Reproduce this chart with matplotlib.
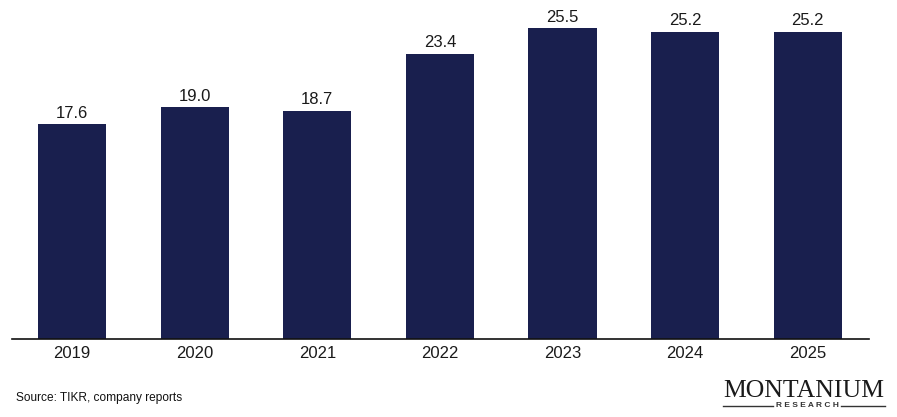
import matplotlib.pyplot as plt
import numpy as np

# ----------------------- Data ---------------------------
years = ["2019", "2020", "2021", "2022", "2023", "2024", "2025"]
values = [17.6, 19.0, 18.7, 23.4, 25.5, 25.2, 25.2]

bar_color = "#191F4E"
plt.rcParams['font.family'] = ['Liberation Sans', 'DejaVu Sans']

# ----------------------- Plotting ---------------------------
fig = plt.figure(figsize=(8.97, 4.17), dpi=100)
ax = fig.add_axes([12 / 897, 78 / 417, 857 / 897, 339 / 417])

x = np.arange(len(years))
bars = ax.bar(x, values, width=0.555, color=bar_color)

for xi, v in zip(x, values):
    ax.annotate(f"{v:.1f}", (xi, v), xytext=(0, 2.5), textcoords="offset points",
                ha="center", va="bottom", fontsize=12, color="#1a1a1a")

ax.set_xlim(-0.49, 6.5)
ax.set_ylim(0, 27.8)
ax.set_xticks(x)
ax.set_xticklabels(years, fontsize=12, color="#1a1a1a")
ax.tick_params(axis="x", length=0, pad=5)
ax.set_yticks([])
for side in ["top", "right", "left"]:
    ax.spines[side].set_visible(False)
ax.spines["bottom"].set_linewidth(1.2)
ax.spines["bottom"].set_color("#111111")

# source note
fig.text(16 / 897, 1 - 398 / 417, "Source: TIKR, company reports", fontsize=8.6,
         ha="left", va="center", color="#111111")

# logo
fig.text(804 / 897, 1 - 391 / 417, "MONTANIUM", fontsize=18.5, family="Liberation Serif",
         ha="center", va="center", color="#1a1a1a")
fig.text(807 / 897, 1 - 405.5 / 417, "R E S E A R C H", fontsize=6, fontweight="bold",
         ha="center", va="center", color="#333333")
fig.add_artist(plt.Line2D([723 / 897, 773 / 897], [1 - 405.5 / 417] * 2, color="#333333", lw=1))
fig.add_artist(plt.Line2D([841 / 897, 885 / 897], [1 - 405.5 / 417] * 2, color="#333333", lw=1))

fig.savefig("out.png", dpi=100)
